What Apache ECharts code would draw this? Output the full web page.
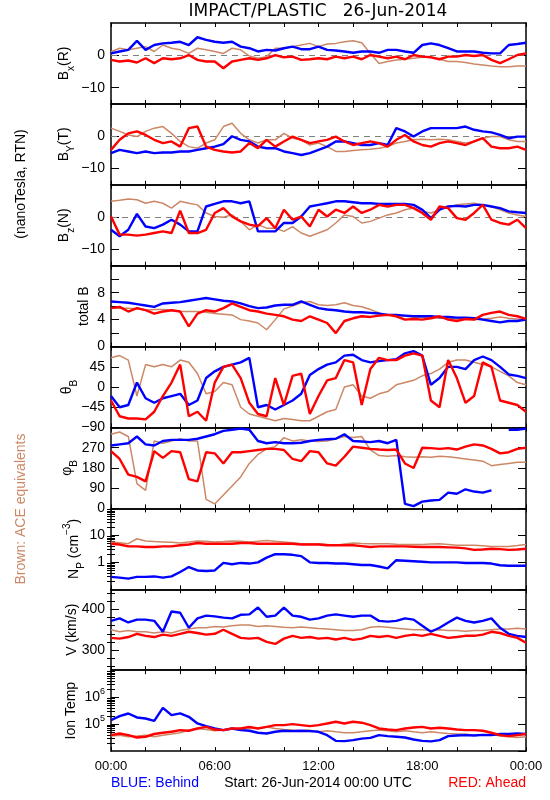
<!DOCTYPE html>
<html><head><meta charset="utf-8">
<script src="https://cdn.jsdelivr.net/npm/echarts@6/dist/echarts.min.js"></script>
<style>html,body{margin:0;padding:0;background:#fff}#c{width:550px;height:800px}</style>
</head><body><div id="c"></div>
<script>
// ---------- time grid (hours after 26-Jun-2014 00:00 UTC) ----------
const hours = [0,0.5,1,1.5,2,2.5,3,3.5,4,4.5,5,5.5,6,6.5,7,7.5,8,8.5,9,9.5,10,10.5,11,11.5,12,12.5,13,13.5,14,14.5,15,15.5,16,16.5,17,17.5,18,18.5,19,19.5,20,20.5,21,21.5,22,22.5,23,23.5,24];
const xTickHours = [0,2,4,6,8,10,12,14,16,18,20,22,24];
const xLabelHours = [0,6,12,18,24];

// ---------- Bx (nT) ----------
const bxBehind = [0.6,1.2,1.7,4.5,1.7,3.2,3.7,3.9,4.2,3.2,5.6,4.8,4.2,3.9,4.2,2.7,2.2,1.2,1.7,1.5,2.2,2.7,1.9,1.9,2.7,1.7,1.5,1.2,0.8,1.2,1.2,0.8,1.7,1.7,1.2,0.8,3.2,3.7,3.2,2.2,1.2,1.2,1.2,0.8,0.6,0.6,3.2,3.5,3.9];
const bxAhead  = [-1.4,-1.9,-1.6,-2.2,-0.9,-2.4,-0.9,-1.2,-0.9,0.1,-1.4,-1.9,-1.9,-4.0,-1.9,-1.4,-0.9,-1.4,-0.9,0.1,-0.6,-0.4,-1.4,-1.2,-0.9,-1.2,-0.4,-0.9,-0.4,-1.2,0.1,-0.4,-0.9,-0.4,-1.2,0.1,-0.4,-0.6,-1.2,-0.4,-0.4,0.1,-0.2,0.1,-1.4,-2.4,-1.2,0.1,0.6];
const bxACE    = [1.1,2.2,1.7,2.2,2.7,1.2,3.2,2.2,1.7,0.6,2.2,1.7,1.2,0.6,2.2,1.7,-0.2,-0.9,-0.4,2.2,2.2,2.7,3.2,3.7,2.7,3.5,3.7,4.2,4.5,3.9,0.6,-2.5,-1.9,-1.4,-1.2,-0.9,-0.6,-0.4,-1.2,-1.9,-1.9,-2.2,-2.7,-3.0,-3.3,-3.5,-3.5,-3.3,-3.3];
// ---------- By (nT) ----------
const byBehind = [-5.2,-4.2,-4.7,-5.2,-4.7,-5.2,-5.0,-5.0,-4.7,-4.7,-4.2,-3.7,-3.2,-2.4,0,-1.1,-1.6,-3.2,-3.7,-3.7,-4.7,-5.2,-5.8,-5.2,-4.2,-3.2,-1.6,-1.6,-2.1,-2.7,-2.7,-2.1,-2.7,2.5,1.5,-0.1,1.5,2.5,2.5,2.5,2.5,3.0,2.0,1.5,1.2,0.4,-0.6,-0.1,-0.1];
const byAhead  = [-4.2,-1.1,0.9,1.5,0.4,-1.1,-2.1,-1.6,-3.2,2.5,3.0,-3.2,-4.2,-4.7,-5.0,-4.7,-2.1,-3.7,-1.1,-3.2,-1.6,-0.1,-1.1,-2.1,-1.6,-1.1,-0.1,-1.6,-2.7,-2.1,-1.6,-2.1,-3.2,-1.1,0.4,-1.6,-2.7,-3.2,-2.1,-1.6,-2.1,-2.7,-1.6,-0.6,-3.2,-3.7,-3.7,-3.2,-4.2];
const byACE    = [2.5,1.5,0.4,-0.1,1.5,2.5,3.0,0.9,-1.6,-3.2,-3.7,-2.1,-1.1,3.0,4.0,0.9,-1.1,-2.1,-1.1,-1.1,0.9,-0.6,-1.1,-2.7,-2.1,-3.2,-4.7,-4.7,-4.4,-4.2,-4.0,-3.7,-3.2,-2.1,-1.6,-1.1,-0.9,-1.1,-0.9,-1.1,-1.6,-2.1,-1.6,-0.6,-0.1,-0.1,-1.1,-1.6,-1.6];
// ---------- Bz (nT) ----------
const bzBehind = [-3.9,-5.9,-3.9,1.0,-2.9,-3.4,-2.3,-0.8,-2.3,-4.4,-4.4,3.3,4.1,4.9,4.9,4.3,4.9,-4.4,-4.4,-4.4,-1.8,-1.8,0.2,3.3,3.8,4.3,4.9,4.9,4.6,4.3,4.3,4.1,4.1,4.1,4.1,3.8,2.3,-0.3,2.3,3.3,3.5,3.3,3.8,3.8,3.3,2.8,1.8,1.5,1.3];
const bzAhead  = [0.2,-5.4,-5.4,-5.7,-5.4,-4.9,-4.4,-4.9,2.0,-4.9,-4.9,-3.9,1.3,2.8,0.2,-1.3,-2.3,-2.8,-0.3,-3.4,2.3,-0.8,0.2,-2.9,2.3,0.2,2.3,1.3,3.3,1.3,2.3,3.8,3.3,3.8,3.8,2.8,1.3,-0.8,3.3,2.8,-0.3,-0.8,1.3,3.8,-0.8,-1.8,-2.3,-0.8,-3.4];
const bzACE    = [4.9,5.2,5.6,5.4,4.3,4.9,4.3,2.8,4.9,4.3,3.8,1.3,0.2,0.0,0.7,-1.3,-3.9,-2.3,-3.4,-3.4,-4.4,-2.9,-4.9,-5.9,-4.9,-3.9,-1.8,0.7,0.2,-1.8,-1.3,-0.3,0.7,1.3,2.3,2.8,1.8,1.3,2.3,3.3,3.8,4.1,4.3,3.8,3.3,2.3,1.3,0.7,0.2];
// ---------- total B (nT) ----------
const btBehind = [6.7,6.6,6.5,6.3,6.1,5.9,6.4,6.5,6.6,6.8,7.0,7.2,7.0,6.8,6.7,6.4,6.0,5.7,5.8,6.1,6.2,6.2,6.7,6.2,5.7,5.5,5.4,5.2,5.1,5.1,5.0,4.9,4.7,4.7,4.6,4.5,4.5,4.5,4.4,4.4,4.3,4.3,4.2,4.0,3.8,3.6,3.8,3.8,4.0];
const btAhead  = [5.7,5.9,5.2,5.7,5.4,4.9,5.2,5.4,5.2,3.0,4.9,5.4,5.2,5.7,6.4,5.9,5.4,5.2,4.9,4.7,4.5,4.0,3.8,4.5,4.0,3.5,2.0,3.8,4.2,4.5,4.4,4.6,4.7,4.5,4.0,4.1,4.0,4.2,4.5,4.0,3.8,4.1,4.0,4.7,5.0,5.2,4.7,4.5,4.1];
const btACE    = [5.7,5.7,5.7,5.6,5.4,5.5,5.5,5.4,5.2,5.2,5.2,5.1,4.9,4.8,4.7,4.0,3.8,3.5,2.5,4.0,5.6,6.0,6.5,6.7,6.2,6.1,6.2,6.5,6.1,5.9,5.5,5.0,4.7,4.6,4.5,4.4,4.3,4.4,4.2,4.2,4.1,4.1,4.0,4.1,4.2,4.4,4.2,4.1,4.0];
// ---------- theta_B (deg) ----------
const thBehind = [-20,-45,-40,10,-25,-35,-25,-20,-15,-40,-30,20,35,45,50,55,65,-45,-40,-50,-40,-30,-15,27,40,50,55,70,72,60,55,58,60,62,75,80,70,5,20,45,45,40,60,68,60,45,28,25,20];
const thAhead  = [-30,-65,-70,-70,-72,-55,-20,10,50,-65,-55,-75,10,45,50,20,-35,-60,-65,20,-40,25,30,-60,-20,15,20,60,55,-40,40,65,60,60,70,75,70,-30,-45,60,20,-35,-20,55,45,-30,-35,-40,-55];
const thACE    = [65,70,60,-20,50,45,50,45,60,55,30,-15,-10,10,5,-45,-60,-65,-70,-75,-70,-72,-75,-75,-65,-55,-50,0,5,-20,-25,-15,-10,5,10,15,25,30,40,55,60,60,55,50,45,35,25,10,5];
// ---------- phi_B (deg) ----------
const phBehind = [280,285,290,320,285,280,300,305,305,305,310,320,330,345,350,355,350,300,290,295,290,290,292,300,305,308,310,330,300,298,295,300,290,305,20,10,30,35,38,70,65,85,75,70,80,null,350,350,355];
const phAhead  = [255,220,150,140,120,255,225,255,250,130,120,250,245,200,250,250,255,260,265,265,260,220,210,255,250,200,190,230,275,270,265,262,260,262,200,180,270,268,265,268,262,275,285,280,265,245,250,265,270];
const phACE    = [330,340,320,110,80,300,290,300,310,300,300,40,20,60,100,140,200,240,265,275,315,300,305,300,298,300,310,320,315,320,260,235,232,235,230,228,230,228,232,230,225,220,215,210,190,195,200,205,205];
// ---------- proton density (cm^-3) ----------
const npBehind = [0.29,0.27,0.25,0.29,0.29,0.30,0.27,0.30,0.44,0.67,0.5,0.48,0.5,0.95,0.85,0.95,0.9,1.0,1.5,2.0,2.0,1.9,1.7,1.0,0.95,0.95,0.9,0.9,0.85,0.8,0.8,0.7,0.6,1.2,1.15,1.1,1.05,1.0,1.0,1.0,1.0,0.95,0.95,0.95,0.9,0.78,0.75,0.75,0.75];
const npAhead  = [4.9,4.6,3.9,3.9,3.7,3.7,3.9,3.9,4.3,4.6,5.2,4.9,4.9,4.9,4.9,5.2,5.2,4.9,4.9,4.9,4.9,4.9,4.6,4.6,4.6,4.3,4.3,4.3,4.3,4.0,3.7,3.9,3.9,3.9,3.9,3.8,3.7,3.7,3.7,3.6,3.5,3.3,2.9,3.0,3.2,3.1,2.9,3.0,3.2];
const npACE    = [5.7,5.3,4.9,7.5,6.2,5.9,5.7,5.5,5.2,5.7,6.2,6.0,5.7,5.9,6.2,6.0,5.7,6.0,6.5,6.0,5.7,5.3,4.9,4.9,4.9,4.6,4.3,4.8,5.2,5.0,4.9,4.9,4.9,4.7,4.6,4.6,4.6,4.8,4.9,4.6,4.3,4.3,4.3,4.1,3.9,3.9,3.9,4.2,4.6];
// ---------- bulk speed (km/s) ----------
const vBehind = [372,378,368,375,375,372,345,395,392,355,378,385,383,380,378,387,388,405,382,385,405,385,382,375,378,385,388,385,382,385,385,372,370,372,378,375,360,345,355,368,380,372,368,372,378,355,340,335,332];
const vAhead  = [330,328,332,340,335,332,338,335,340,345,342,338,340,350,340,330,328,330,320,315,328,335,330,332,328,330,326,330,325,328,335,332,335,330,335,338,335,340,335,330,332,335,335,338,345,342,335,330,318];
const vACE    = [350,345,348,345,345,342,345,342,348,352,355,355,358,357,360,362,362,358,360,358,356,355,357,355,353,352,350,348,348,350,356,358,356,354,352,350,350,348,350,348,348,346,348,348,350,352,352,354,352];
// ---------- ion temperature (K) ----------
const tBehind = [1.41e5,1.98e5,2.48e5,1.77e5,1.62e5,1.33e5,4.0e5,2.15e5,2.5e5,1.87e5,1.06e5,8.4e4,6.9e4,6.0e4,6.9e4,6.0e4,5.7e4,4.8e4,4.5e4,5.2e4,5.7e4,5.5e4,5.7e4,5.5e4,5.2e4,3.9e4,2.4e4,2.35e4,2.55e4,2.9e4,3.1e4,3.9e4,3.6e4,3.4e4,3.2e4,2.7e4,2.4e4,2.3e4,2.55e4,3.6e4,3.8e4,3.9e4,3.8e4,4.0e4,3.9e4,4.3e4,4.3e4,4.5e4,4.3e4];
const tAhead  = [3.9e4,4.5e4,3.9e4,3.2e4,3.4e4,4.3e4,4.8e4,5.2e4,6.0e4,5.7e4,6.9e4,7.9e4,6.3e4,6.0e4,6.9e4,6.9e4,7.9e4,6.9e4,7.9e4,9.2e4,9.2e4,1.0e5,9.2e4,8.4e4,9.2e4,1.06e5,1.23e5,1.06e5,1.23e5,1.13e5,9.2e4,6.9e4,6.3e4,6.0e4,6.9e4,7.5e4,7.9e4,6.9e4,7.3e4,6.9e4,6.3e4,6.0e4,6.0e4,5.7e4,4.8e4,3.9e4,3.6e4,3.9e4,4.3e4];
const tACE    = [3.6e4,3.9e4,3.4e4,3.6e4,3.9e4,3.4e4,3.9e4,4.3e4,4.8e4,6.0e4,6.9e4,6.3e4,5.7e4,6.0e4,6.9e4,6.0e4,6.9e4,6.9e4,7.9e4,6.9e4,6.3e4,6.0e4,5.7e4,6.0e4,5.2e4,5.7e4,5.2e4,4.8e4,4.8e4,5.2e4,5.7e4,6.0e4,5.7e4,5.2e4,5.7e4,5.2e4,4.8e4,5.2e4,4.8e4,4.5e4,4.3e4,4.3e4,3.9e4,3.9e4,4.3e4,3.6e4,3.4e4,3.2e4,3.4e4];

// ---------- axis ticks / labels ----------
const bTicks = [-10,0], bLabels = [-10,0];
const totTicks = [0,2,4,6,8,10,12], totLabels = [0,4,8];
const thTicks = [-90,-45,0,45,90], thLabels = [-90,-45,0,45];
const phTicks = [0,90,180,270,360], phLabels = [0,90,180,270];
const npMinor = [0.2,0.3,0.4,0.5,0.6,0.7,0.8,0.9,2,3,4,5,6,7,8,9,20,30,40,50,60,70,80,90];
const vTicks = [300,400], vLabels = [300,400], vMinor = [260,280,320,340,360,380,420,440];
const tMinor = [2e4,3e4,4e4,5e4,6e4,7e4,8e4,9e4,2e5,3e5,4e5,5e5,6e5,7e5,8e5,9e5,2e6,3e6,4e6,5e6,6e6,7e6,8e6,9e6];

// ---------- styling ----------
const FONT = '"Liberation Sans", Arial, sans-serif';
const C_BEHIND = '#0000ff', C_AHEAD = '#ff0000', C_ACE = '#cc8866';
const L = 111, R = 24, T0 = 23, H = 80.9;
const AXL = {color:'#000', width:1.5};
const TKL = {color:'#000', width:1};

const fmtHour = h => { const hh = h % 24; return (hh < 10 ? '0' : '') + hh + ':00'; };
const fmtNum = v => v < 0 ? '\u2212' + (-v) : String(v);
const fmtNp = v => v >= 1 ? String(Math.round(v)) : String(v);
const fmtPow = v => '{b|10}{p|' + Math.round(Math.log10(v)) + '}';

const panels = [
  {title:'{m|B}{sub|x}{m|(R)}', tx:64, type:'value', min:-15, max:10, ticks:bTicks, labels:bLabels, zero:true, ace:bxACE, behind:bxBehind, ahead:bxAhead},
  {title:'{m|B}{sub|Y}{m|(T)}', tx:64, type:'value', min:-15, max:10, ticks:bTicks, labels:bLabels, zero:true, ace:byACE, behind:byBehind, ahead:byAhead},
  {title:'{m|B}{sub|z}{m|(N)}', tx:64, type:'value', min:-15, max:10, ticks:bTicks, labels:bLabels, zero:true, ace:bzACE, behind:bzBehind, ahead:bzAhead},
  {title:'{m|total B}', tx:84, type:'value', min:0, max:12, ticks:totTicks, labels:totLabels, ace:btACE, behind:btBehind, ahead:btAhead},
  {title:'{m|\u03b8}{sub|B}', tx:67, type:'value', min:-90, max:90, ticks:thTicks, labels:thLabels, ace:thACE, behind:thBehind, ahead:thAhead},
  {title:'{m|\u03c6}{sub|B}', tx:67, type:'value', min:0, max:360, ticks:phTicks, labels:phLabels, ace:phACE, behind:phBehind, ahead:phAhead},
  {title:'{m|N}{sub|P}{m| (cm}{sup|\u22123}{m|)}', tx:74, type:'log', min:0.1, max:100, minor:npMinor, fmt:fmtNp, ace:npACE, behind:npBehind, ahead:npAhead},
  {title:'{m|V (km/s)}', tx:72, type:'value', min:250, max:450, ticks:vTicks, labels:vLabels, minor:vMinor, ace:vACE, behind:vBehind, ahead:vAhead},
  {title:'{m|Ion Temp}', tx:71, type:'log', min:1e4, max:1e7, minor:tMinor, fmt:fmtPow, ace:tACE, behind:tBehind, ahead:tAhead}
];

const titleRich = {
  m:{fontSize:14, fontFamily:FONT, lineHeight:24, verticalAlign:'middle'},
  sub:{fontSize:10, fontFamily:FONT, lineHeight:10, verticalAlign:'bottom'},
  sup:{fontSize:10, fontFamily:FONT, lineHeight:10, verticalAlign:'top'}
};
const powRich = {
  b:{fontSize:14, fontFamily:FONT, color:'#000', lineHeight:20, verticalAlign:'middle'},
  p:{fontSize:9, fontFamily:FONT, color:'#000', lineHeight:9, verticalAlign:'top'}
};

const grids = [], xAxes = [], yAxes = [], series = [], graphics = [];
panels.forEach((p, i) => {
  const top = T0 + i * H;
  grids.push({left:L, right:R, top:top, height:H});
  const last = i === panels.length - 1;
  const xBase = {gridIndex:i, type:'value', min:0, max:24, splitLine:{show:false},
    axisTick:{show:true, inside:true, length:4, customValues:xTickHours, lineStyle:TKL}};
  const xb = xAxes.length;
  xAxes.push(Object.assign({}, xBase, {position:'bottom', axisLine:{show:true, onZero:false, lineStyle:AXL},
    axisLabel:{show:last, customValues:xLabelHours, formatter:fmtHour, margin:9, color:'#000', fontSize:13, fontFamily:FONT}}));
  xAxes.push(Object.assign({}, xBase, {position:'top', axisLine:{show:true, onZero:false, lineStyle:AXL}, axisLabel:{show:false}}));

  const yBase = {gridIndex:i, type:p.type, min:p.min, max:p.max, splitLine:{show:false}};
  if (p.type === 'log') yBase.logBase = 10;
  let tick, label;
  if (p.type === 'log') {
    tick = {show:true, inside:true, length:8, lineStyle:TKL};
    label = {showMinLabel:false, showMaxLabel:false, formatter:p.fmt, rich:powRich, margin:6, color:'#000', fontSize:14, fontFamily:FONT};
  } else {
    tick = {show:true, inside:true, length:8, customValues:p.ticks, lineStyle:TKL};
    label = {customValues:p.labels, formatter:fmtNum, margin:6, color:'#000', fontSize:14, fontFamily:FONT};
  }
  const yl = yAxes.length;
  yAxes.push(Object.assign({}, yBase, {position:'left', axisLine:{show:true, onZero:false, lineStyle:AXL}, axisTick:tick, axisLabel:label}));
  yAxes.push(Object.assign({}, yBase, {position:'right', axisLine:{show:true, onZero:false, lineStyle:AXL}, axisTick:tick, axisLabel:{show:false}}));
  if (p.minor) {
    const mt = {show:true, inside:true, length:4, customValues:p.minor, lineStyle:TKL};
    yAxes.push(Object.assign({}, yBase, {position:'left', axisLine:{show:false}, axisTick:mt, axisLabel:{show:false}}));
    yAxes.push(Object.assign({}, yBase, {position:'right', axisLine:{show:false}, axisTick:mt, axisLabel:{show:false}}));
  }

  [[p.ace, C_ACE, 1.5], [p.behind, C_BEHIND, 2.4], [p.ahead, C_AHEAD, 2.4]].forEach((s, k) => {
    const ser = {type:'line', xAxisIndex:xb, yAxisIndex:yl, z:10 + k, showSymbol:false, connectNulls:false,
      lineStyle:{color:s[1], width:s[2]}, itemStyle:{color:s[1]}, animation:false, silent:true,
      data:hours.map((h, j) => [h, s[0][j]])};
    if (k === 0 && p.zero) {
      ser.markLine = {silent:true, symbol:'none', label:{show:false}, animation:false,
        lineStyle:{color:'#808080', type:[6,5], width:1}, data:[{yAxis:0}]};
    }
    series.push(ser);
  });

  graphics.push({type:'text', x:p.tx, y:top + H / 2, rotation:Math.PI / 2,
    style:{text:p.title, rich:titleRich, fill:'#000', fontSize:14, fontFamily:FONT, align:'center', verticalAlign:'middle'}});
});

graphics.push({type:'text', x:318, y:12, style:{text:'IMPACT/PLASTIC   26-Jun-2014', fill:'#000', fontSize:17, fontFamily:'"DejaVu Sans", sans-serif', align:'center', verticalAlign:'middle'}});
graphics.push({type:'text', x:21, y:184, rotation:Math.PI / 2, style:{text:'(nanoTesla, RTN)', fill:'#000', fontSize:14, fontFamily:FONT, align:'center', verticalAlign:'middle'}});
graphics.push({type:'text', x:21, y:509, rotation:Math.PI / 2, style:{text:'Brown: ACE equivalents', fill:C_ACE, fontSize:14, fontFamily:FONT, align:'center', verticalAlign:'middle'}});
graphics.push({type:'text', x:111, y:783, style:{text:'BLUE: Behind', fill:C_BEHIND, fontSize:14, fontFamily:FONT, align:'left', verticalAlign:'middle'}});
graphics.push({type:'text', x:318, y:783, style:{text:'Start: 26-Jun-2014 00:00 UTC', fill:'#000', fontSize:14, fontFamily:FONT, align:'center', verticalAlign:'middle'}});
graphics.push({type:'text', x:526, y:783, style:{text:'RED: Ahead', fill:C_AHEAD, fontSize:14, fontFamily:FONT, align:'right', verticalAlign:'middle'}});

const chart = echarts.init(document.getElementById('c'), null, {renderer:'canvas', width:550, height:800});
chart.setOption({
  animation:false,
  backgroundColor:'#fff',
  grid:grids, xAxis:xAxes, yAxis:yAxes, series:series, graphic:graphics
});
</script></body></html>
